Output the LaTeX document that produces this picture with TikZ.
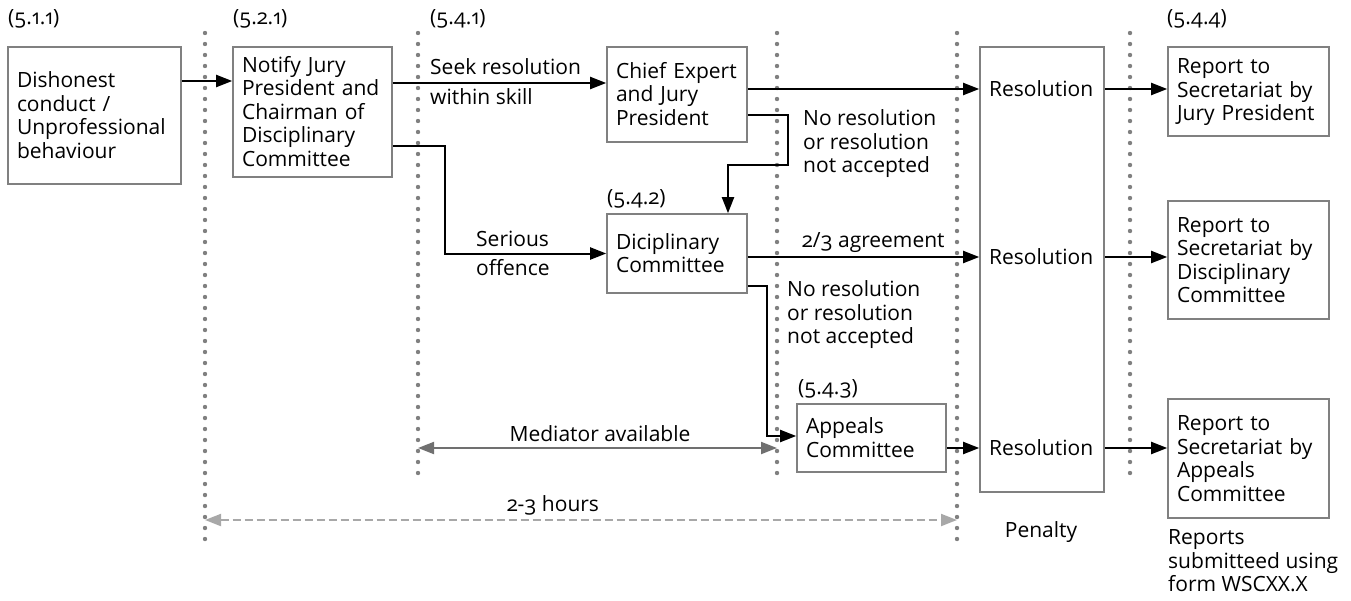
\documentclass[tikz,border=0pt]{standalone}
\usepackage{fontspec}
\setmainfont{Open Sans}[Numbers=OldStyle]
\usetikzlibrary{arrows.meta,calc}
\definecolor{boxgray}{HTML}{808080}
\definecolor{dotgray}{HTML}{808080}
\definecolor{medgray}{HTML}{707070}
\definecolor{hrsgray}{HTML}{A8A8A8}
\newcommand\mystrut{\rule[-2.4pt]{0pt}{19.4pt}}
\begin{document}
\begin{tikzpicture}[x=1pt,y=-1pt,
  txt/.style={font=\fontsize{21pt}{23.5pt}\selectfont, inner sep=0pt, align=left,
    execute at begin node=\mystrut, execute at end node=\mystrut},
  box/.style={txt, draw=boxgray, line width=1.6pt, inner xsep=9pt, inner ysep=0pt, fill=white},
  arr/.style={line width=2pt, -{Triangle[length=16pt,width=12pt]}},
  dots/.style={dotgray, line width=4.4pt, line cap=round, dash pattern=on 0pt off 11pt},
  med/.style={medgray, line width=2pt, {Triangle[length=16pt,width=12pt]}-{Triangle[length=16pt,width=12pt]}},
  hrs/.style={hrsgray, line width=2pt, dash pattern=on 8pt off 4pt, {Triangle[length=16pt,width=12pt]}-{Triangle[length=16pt,width=12pt]}}
]
\useasboundingbox (0,0) rectangle (1351,600);

% dotted separators
\coordinate (d1t) at (205,33); \coordinate (d1b) at (205,541);
\coordinate (d2t) at (418,33); \coordinate (d2b) at (418,482);
\coordinate (d3t) at (777,33); \coordinate (d3b) at (777,482);
\coordinate (d4t) at (957,33); \coordinate (d4b) at (957,541);
\coordinate (d5t) at (1130,33); \coordinate (d5b) at (1130,482);
\draw[dots] (d1t) -- (d1b);
\draw[dots] (d2t) -- (d2b);
\draw[dots] (d3t) -- (d3b);
\draw[dots] (d4t) -- (d4b);
\draw[dots] (d5t) -- (d5b);

% section labels
\node[txt, anchor=west] (l511) at (8,18) {(5.1.1)};
\node[txt, anchor=west] (l521) at (233,18) {(5.2.1)};
\node[txt, anchor=west] (l541) at (430,18) {(5.4.1)};
\node[txt, anchor=west] (l544) at (1167,18) {(5.4.4)};
\node[txt, anchor=west] (l542) at (607,198) {(5.4.2)};
\node[txt, anchor=west] (l543) at (798,388) {(5.4.3)};

% boxes
\node[box, text width=155pt, minimum height=137pt] (dish) at (94.5,115.5)
  {Dishonest\\conduct /\\Unprofessional\\behaviour};
\node[box, text width=141pt, minimum height=130pt] (notify) at (312.5,112)
  {Notify Jury\\President and\\Chairman of\\Disciplinary\\Committee};
\node[box, text width=122pt, minimum height=95pt] (chief) at (677,94.5)
  {Chief Expert\\and Jury\\President};
\node[box, text width=122pt, minimum height=79pt] (disc) at (677,253.5)
  {Diciplinary\\Committee};
\node[box, text width=131pt, minimum height=68pt] (appeals) at (871.5,438)
  {Appeals\\Committee};
\node[draw=boxgray, line width=1.6pt, minimum width=124pt, minimum height=445pt, inner sep=0pt] (resbig) at (1042,269.5) {};
\node[box, text width=143pt, minimum height=89pt] (rep1) at (1248.5,91.5)
  {Report to\\Secretariat by\\Jury President};
\node[box, text width=143pt, minimum height=118pt] (rep2) at (1248.5,260)
  {Report to\\Secretariat by\\Disciplinary\\Committee};
\node[box, text width=143pt, minimum height=119pt] (rep3) at (1248.5,458.5)
  {Report to\\Secretariat by\\Appeals\\Committee};

% resolution labels
\node[txt, anchor=west] (res1) at (989,89) {Resolution};
\node[txt, anchor=west] (res2) at (989,257) {Resolution};
\node[txt, anchor=west] (res3) at (989,448) {Resolution};

% other labels
\node[txt, anchor=west] (seek1) at (430,67) {Seek resolution};
\node[txt, anchor=west] (seek2) at (430,97) {within skill};
\node[txt, anchor=west] (ser1) at (476,239) {Serious};
\node[txt, anchor=west] (ser2) at (476,268) {offence};
\node[txt, anchor=west] (nr1) at (803,144) {No resolution\\or resolution\\not accepted};
\node[txt, anchor=west] (nr2) at (787,315) {No resolution\\or resolution\\not accepted};
\node[txt, anchor=west] (agr) at (802,242) {2/3 agreement};
\node[txt] (medtxt) at (600,434) {Mediator available};
\node[txt] (hrstxt) at (553,505) {2-3 hours};
\node[txt] (pen) at (1041,532) {Penalty};
\node[txt, anchor=west] (rsub) at (1168,562) {Reports\\submitteed using\\form WSCXX.X};

% connectors
\draw[arr] ([yshift=34.5pt]dish.east) -- ([yshift=31pt]notify.west);
\draw[arr] ([yshift=29pt]notify.east) -- ([yshift=11.5pt]chief.west);
\draw[arr] ([yshift=-34pt]notify.east) -- ++(52,0) |- (disc.west);
\draw[arr] (chief.east |- res1) -- (res1 -| resbig.west);
\draw[arr] ([yshift=-20.5pt]chief.east) -- ++(40,0) -- ++(0,50) -| ([xshift=51pt]disc.north);
\draw[arr] (disc.east |- res2) -- (res2 -| resbig.west);
\draw[arr] ([yshift=-32.5pt]disc.east) -- ++(19,0) |- ([yshift=2pt]appeals.west);
\draw[arr] (appeals.east |- res3) -- (res3 -| resbig.west);
\draw[arr] (res1 -| resbig.east) -- (res1 -| rep1.west);
\draw[arr] (res2 -| resbig.east) -- (res2 -| rep2.west);
\draw[arr] (res3 -| resbig.east) -- (res3 -| rep3.west);

% spans
\coordinate (hy) at (0,520);
\draw[med] (d2t |- res3) -- (d3t |- res3);
\draw[hrs] (d1t |- hy) -- (d4t |- hy);
\end{tikzpicture}
\end{document}
